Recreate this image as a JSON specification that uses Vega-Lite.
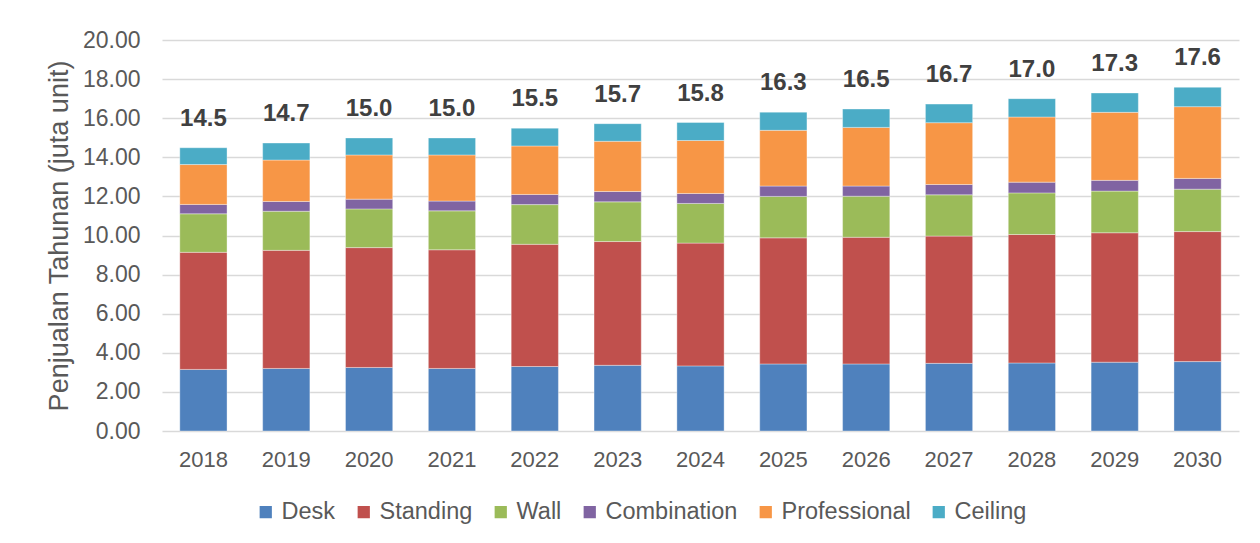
{
  "$schema": "https://vega.github.io/schema/vega-lite/v6.json",
  "autosize": {"type": "none"},
  "width": 1077,
  "height": 391,
  "padding": {"left": 162, "top": 40, "right": 21, "bottom": 112},
  "background": "white",
  "config": {
    "font": "Liberation Sans",
    "view": {"stroke": null},
    "axis": {"labelFont": "Liberation Sans", "titleFont": "Liberation Sans", "labelColor": "#595959", "titleColor": "#595959"}
  },
  "data": {"values": [
    {"year": "2018", "type": "Desk", "value": 3.15},
    {"year": "2018", "type": "Standing", "value": 5.99},
    {"year": "2018", "type": "Wall", "value": 1.97},
    {"year": "2018", "type": "Combination", "value": 0.48},
    {"year": "2018", "type": "Professional", "value": 2.04},
    {"year": "2018", "type": "Ceiling", "value": 0.86},
    {"year": "2019", "type": "Desk", "value": 3.20},
    {"year": "2019", "type": "Standing", "value": 6.04},
    {"year": "2019", "type": "Wall", "value": 2.00},
    {"year": "2019", "type": "Combination", "value": 0.50},
    {"year": "2019", "type": "Professional", "value": 2.12},
    {"year": "2019", "type": "Ceiling", "value": 0.87},
    {"year": "2020", "type": "Desk", "value": 3.25},
    {"year": "2020", "type": "Standing", "value": 6.13},
    {"year": "2020", "type": "Wall", "value": 1.98},
    {"year": "2020", "type": "Combination", "value": 0.50},
    {"year": "2020", "type": "Professional", "value": 2.26},
    {"year": "2020", "type": "Ceiling", "value": 0.87},
    {"year": "2021", "type": "Desk", "value": 3.20},
    {"year": "2021", "type": "Standing", "value": 6.07},
    {"year": "2021", "type": "Wall", "value": 1.99},
    {"year": "2021", "type": "Combination", "value": 0.50},
    {"year": "2021", "type": "Professional", "value": 2.36},
    {"year": "2021", "type": "Ceiling", "value": 0.87},
    {"year": "2022", "type": "Desk", "value": 3.30},
    {"year": "2022", "type": "Standing", "value": 6.25},
    {"year": "2022", "type": "Wall", "value": 2.03},
    {"year": "2022", "type": "Combination", "value": 0.52},
    {"year": "2022", "type": "Professional", "value": 2.48},
    {"year": "2022", "type": "Ceiling", "value": 0.91},
    {"year": "2023", "type": "Desk", "value": 3.36},
    {"year": "2023", "type": "Standing", "value": 6.33},
    {"year": "2023", "type": "Wall", "value": 2.03},
    {"year": "2023", "type": "Combination", "value": 0.53},
    {"year": "2023", "type": "Professional", "value": 2.57},
    {"year": "2023", "type": "Ceiling", "value": 0.90},
    {"year": "2024", "type": "Desk", "value": 3.33},
    {"year": "2024", "type": "Standing", "value": 6.28},
    {"year": "2024", "type": "Wall", "value": 2.03},
    {"year": "2024", "type": "Combination", "value": 0.51},
    {"year": "2024", "type": "Professional", "value": 2.71},
    {"year": "2024", "type": "Ceiling", "value": 0.92},
    {"year": "2025", "type": "Desk", "value": 3.43},
    {"year": "2025", "type": "Standing", "value": 6.45},
    {"year": "2025", "type": "Wall", "value": 2.12},
    {"year": "2025", "type": "Combination", "value": 0.53},
    {"year": "2025", "type": "Professional", "value": 2.85},
    {"year": "2025", "type": "Ceiling", "value": 0.93},
    {"year": "2026", "type": "Desk", "value": 3.43},
    {"year": "2026", "type": "Standing", "value": 6.48},
    {"year": "2026", "type": "Wall", "value": 2.10},
    {"year": "2026", "type": "Combination", "value": 0.52},
    {"year": "2026", "type": "Professional", "value": 3.00},
    {"year": "2026", "type": "Ceiling", "value": 0.94},
    {"year": "2027", "type": "Desk", "value": 3.46},
    {"year": "2027", "type": "Standing", "value": 6.51},
    {"year": "2027", "type": "Wall", "value": 2.11},
    {"year": "2027", "type": "Combination", "value": 0.53},
    {"year": "2027", "type": "Professional", "value": 3.16},
    {"year": "2027", "type": "Ceiling", "value": 0.95},
    {"year": "2028", "type": "Desk", "value": 3.48},
    {"year": "2028", "type": "Standing", "value": 6.57},
    {"year": "2028", "type": "Wall", "value": 2.13},
    {"year": "2028", "type": "Combination", "value": 0.55},
    {"year": "2028", "type": "Professional", "value": 3.33},
    {"year": "2028", "type": "Ceiling", "value": 0.94},
    {"year": "2029", "type": "Desk", "value": 3.52},
    {"year": "2029", "type": "Standing", "value": 6.62},
    {"year": "2029", "type": "Wall", "value": 2.13},
    {"year": "2029", "type": "Combination", "value": 0.55},
    {"year": "2029", "type": "Professional", "value": 3.48},
    {"year": "2029", "type": "Ceiling", "value": 0.99},
    {"year": "2030", "type": "Desk", "value": 3.55},
    {"year": "2030", "type": "Standing", "value": 6.65},
    {"year": "2030", "type": "Wall", "value": 2.17},
    {"year": "2030", "type": "Combination", "value": 0.55},
    {"year": "2030", "type": "Professional", "value": 3.67},
    {"year": "2030", "type": "Ceiling", "value": 0.99}
  ]},
  "encoding": {
    "x": {
      "field": "year", "type": "ordinal",
      "scale": {"paddingInner": 0.43, "paddingOuter": 0.215},
      "axis": {"title": null, "labelAngle": 0, "labelFontSize": 22, "labelPadding": 18, "domain": false, "ticks": false, "grid": false}
    }
  },
  "layer": [
    {
      "mark": {"type": "bar", "stroke": "white", "strokeWidth": 0.6, "strokeOpacity": 0.6},
      "encoding": {
        "y": {
          "field": "value", "type": "quantitative", "stack": "zero",
          "scale": {"domain": [0, 20], "nice": false},
          "axis": {
            "title": "Penjualan Tahunan (juta unit)", "titleFontSize": 27, "titleFontWeight": "normal", "titlePadding": 9,
            "labelFontSize": 23, "labelPadding": 22, "labelOverlap": false, "format": ".2f",
            "values": [0, 2, 4, 6, 8, 10, 12, 14, 16, 18, 20],
            "domain": false, "ticks": false, "gridColor": "#d9d9d9", "gridWidth": 1.5
          }
        },
        "color": {
          "field": "type", "type": "nominal",
          "scale": {
            "domain": ["Desk", "Standing", "Wall", "Combination", "Professional", "Ceiling"],
            "range": ["#4F81BD", "#C0504D", "#9BBB59", "#8064A2", "#F79646", "#4BACC6"]
          },
          "legend": {
            "title": null, "orient": "none", "direction": "horizontal", "legendX": 92, "legendY": 460,
            "symbolType": "square", "symbolSize": 150, "symbolStrokeWidth": 0, "symbolOpacity": 1,
            "labelFontSize": 23.5, "labelColor": "#595959", "labelOffset": 4, "columnPadding": 16
          }
        },
        "order": {"field": "ord", "type": "quantitative"}
      },
      "transform": [
        {"calculate": "indexof(['Desk','Standing','Wall','Combination','Professional','Ceiling'], datum.type)", "as": "ord"}
      ]
    },
    {
      "transform": [
        {"aggregate": [{"op": "sum", "field": "value", "as": "total"}], "groupby": ["year"]}
      ],
      "mark": {"type": "text", "fontSize": 24, "fontWeight": "bold", "color": "#404040", "baseline": "alphabetic", "dy": -22},
      "encoding": {
        "y": {
          "field": "total", "type": "quantitative",
          "axis": {
            "title": "Penjualan Tahunan (juta unit)", "titleFontSize": 27, "titleFontWeight": "normal", "titlePadding": 9,
            "labelFontSize": 23, "labelPadding": 22, "labelOverlap": false, "format": ".2f",
            "values": [0, 2, 4, 6, 8, 10, 12, 14, 16, 18, 20],
            "domain": false, "ticks": false, "gridColor": "#d9d9d9", "gridWidth": 1.5
          }
        },
        "text": {"field": "total", "type": "quantitative", "format": ".1f"}
      }
    }
  ]
}
